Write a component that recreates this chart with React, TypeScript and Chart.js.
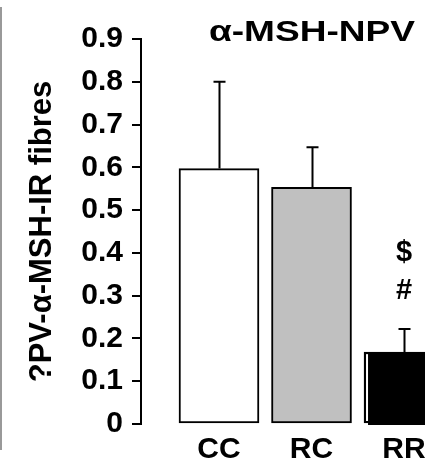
import React, { useEffect, useRef } from 'react';
import { Chart, registerables } from 'chart.js';

Chart.register(...registerables);

const categories = ['CC', 'RC', 'RR'];
const means = [0.597, 0.553, 0.168];
const sems = [0.203, 0.094, 0.054];
const barColors = ['#ffffff', '#c0c0c0', '#000000'];
const yTickValues = [0, 0.1, 0.2, 0.3, 0.4, 0.5, 0.6, 0.7, 0.8, 0.9];
const yTickLabels = ['0', '0.1', '0.2', '0.3', '0.4', '0.5', '0.6', '0.7', '0.8', '0.9'];
const annotations: string[][] = [[], [], ['$', '#']];
const chartTitle = 'α-MSH-NPV';
const yTitle = '?PV-α-MSH-IR fibres';

const FONT = '"Liberation Sans", Arial, sans-serif';

const framePlugin = {
  id: 'frame',
  beforeDraw(chart: any) {
    const ctx = chart.ctx;
    ctx.save();
    ctx.fillStyle = '#ffffff';
    ctx.fillRect(0, 0, chart.width, chart.height);
    ctx.fillStyle = '#999999';
    ctx.fillRect(0, 7, 2, 443);
    ctx.restore();
  },
};

const errorBarPlugin = {
  id: 'errorBars',
  afterDatasetsDraw(chart: any) {
    const ctx = chart.ctx;
    const meta = chart.getDatasetMeta(0);
    const yScale = chart.scales.y;
    ctx.save();
    meta.data.forEach((bar: any, i: number) => {
      if (barColors[i] === '#000000') {
        const left = bar.x - bar.width / 2;
        const h = bar.base - bar.y;
        ctx.fillStyle = '#ffffff';
        ctx.fillRect(left + 2, bar.y + 2, 2, h - 4);
        ctx.fillStyle = '#000000';
        ctx.fillRect(left + 4, bar.base - 1, bar.width, 3);
      }
      ctx.strokeStyle = '#000';
      ctx.lineWidth = 2;
      const x = Math.round(bar.x) + 0.5;
      const yTop = yScale.getPixelForValue(means[i] + sems[i]);
      const yBase = bar.y;
      ctx.beginPath();
      ctx.moveTo(x, yBase);
      ctx.lineTo(x, yTop);
      ctx.moveTo(x - 6, yTop);
      ctx.lineTo(x + 6, yTop);
      ctx.stroke();
      const lines = annotations[i];
      ctx.fillStyle = '#000';
      ctx.font = `bold 29px ${FONT}`;
      ctx.textAlign = 'center';
      ctx.textBaseline = 'alphabetic';
      for (let k = 0; k < lines.length; k++) {
        const line = lines[lines.length - 1 - k];
        ctx.fillText(line, bar.x, yTop - 30 - k * 38);
      }
    });
    ctx.restore();
  },
};

const titlePlugin = {
  id: 'customTitle',
  afterDraw(chart: any) {
    const ctx = chart.ctx;
    ctx.save();
    ctx.font = `bold 30px ${FONT}`;
    ctx.fillStyle = '#000';
    ctx.textAlign = 'center';
    ctx.textBaseline = 'alphabetic';
    const w = ctx.measureText(chartTitle).width;
    const sx = 206 / w;
    ctx.translate(312, 41);
    ctx.scale(sx, 1);
    ctx.fillText(chartTitle, 0, 0);
    ctx.restore();
  },
};

export default function App() {
  const canvasRef = useRef<HTMLCanvasElement>(null);

  useEffect(() => {
    if (!canvasRef.current) return;
    const chart = new Chart(canvasRef.current, {
      type: 'bar',
      data: {
        datasets: [
          {
            data: categories.map((_, i) => ({ x: i + 1, y: means[i] })),
            backgroundColor: barColors,
            borderColor: '#000000',
            borderWidth: 2,
            borderSkipped: false,
            barThickness: 80,
          } as any,
        ],
      },
      options: {
        animation: false,
        responsive: false,
        layout: { padding: { top: 39, left: 0, right: 0, bottom: 0 } },
        plugins: {
          legend: { display: false },
          tooltip: { enabled: false },
          title: { display: false },
        },
        scales: {
          x: {
            type: 'linear',
            offset: false,
            min: 0.157,
            max: 3.605,
            afterBuildTicks: (s: any) => {
              s.ticks = categories.map((_, i) => ({ value: i + 1 }));
            },
            afterFit: (s: any) => {
              s.height = 41;
            },
            ticks: {
              callback: (_v: any, i: number) => categories[i] ?? '',
              font: { family: FONT, weight: 'bold', size: 30 },
              color: '#000',
              padding: 8,
              autoSkip: false,
              maxRotation: 0,
            },
            grid: { display: false, drawTicks: false },
            border: { display: false },
          } as any,
          y: {
            min: 0,
            max: 0.9,
            afterBuildTicks: (s: any) => {
              s.ticks = yTickValues.map((v) => ({ value: v }));
            },
            afterFit: (s: any) => {
              s.width = 141;
            },
            ticks: {
              callback: (_v: any, i: number) => yTickLabels[i] ?? '',
              font: { family: FONT, weight: 'bold', size: 30 },
              color: '#000',
              padding: 9,
              autoSkip: false,
            },
            grid: {
              drawOnChartArea: false,
              drawTicks: true,
              tickLength: 9,
              color: '#000',
              lineWidth: 2,
            },
            border: { display: true, color: '#000', width: 2 },
            title: {
              display: true,
              text: yTitle,
              font: { family: FONT, weight: 'bold', size: 31 },
              color: '#000',
              padding: { top: 24, bottom: 0 },
            },
          } as any,
        },
      },
      plugins: [framePlugin, errorBarPlugin, titlePlugin],
    });
    return () => chart.destroy();
  }, []);

  return (
    <div style={{ position: 'absolute', left: 0, top: 0, width: 425, height: 465, overflow: 'hidden', background: '#fff' }}>
      <canvas ref={canvasRef} width={460} height={465} />
    </div>
  );
}
